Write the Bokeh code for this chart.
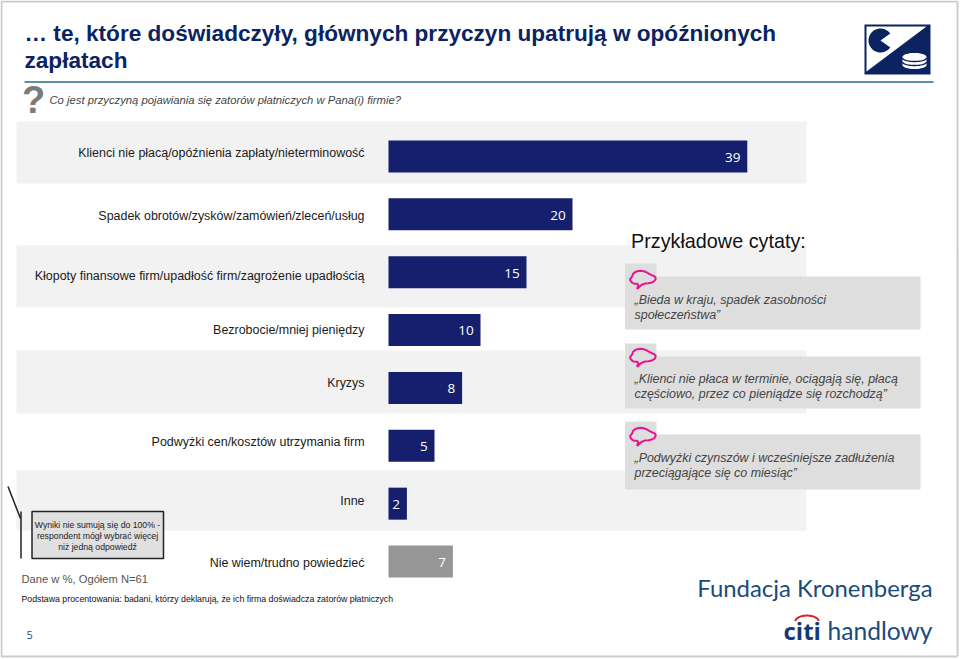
import numpy as np
from bokeh.plotting import figure
from bokeh.models import Range1d
from bokeh.core.properties import value
from bokeh.embed import file_html
from bokeh.resources import INLINE

categories = ["Klienci nie płacą/opóźnienia zapłaty/nieterminowość",
              "Spadek obrotów/zysków/zamówień/zleceń/usług",
              "Kłopoty finansowe firm/upadłość firm/zagrożenie upadłością",
              "Bezrobocie/mniej pieniędzy", "Kryzys",
              "Podwyżki cen/kosztów utrzymania firm", "Inne",
              "Nie wiem/trudno powiedzieć"]
values = [39, 20, 15, 10, 8, 5, 2, 7]
bar_colors = ["#151f6d"] * 7 + ["#969696"]
quotes = [["„Bieda w kraju, spadek zasobności", "społeczeństwa”"],
          ["„Klienci nie płaca w terminie, ociągają się, płacą", "częściowo, przez co pieniądze się rozchodzą”"],
          ["„Podwyżki czynszów i wcześniejsze zadłużenia", "przeciągające się co miesiąc”"]]

OX, OY = 0, 0
W, H = 960, 659
PX_PER_UNIT, X0 = 9.2, 388.0
Y0, STEP = 156.0, 57.86

p = figure(width=W, height=H, output_backend="svg", toolbar_location=None,
           x_range=Range1d((OX - X0) / PX_PER_UNIT, (OX + W - X0) / PX_PER_UNIT),
           y_range=Range1d((OY + H - Y0) / STEP, (OY - Y0) / STEP),
           min_border=0, outline_line_color=None, background_fill_color="white")
p.axis.visible = False
p.grid.visible = False
p.extra_x_ranges["px"] = Range1d(OX, OX + W)
p.extra_y_ranges["px"] = Range1d(OY + H, OY)
PX = dict(x_range_name="px", y_range_name="px")
ARIAL = value("Liberation Sans")

def txt(x, y, s, size, color="#000000", align="left", style="normal", font=ARIAL):
    p.text([x], [y], text=[s], text_font=font, text_font_size=f"{size}px",
           text_color=color, text_align=align, text_baseline="middle",
           text_font_style=style, **PX)

def box(l, r, t, b, color, line=None, lw=1):
    p.quad(left=[l], right=[r], top=[t], bottom=[b], fill_color=color,
           line_color=line, line_width=lw, **PX)

# slide frame
p.line([1, 957, 957], [1, 1, 656], line_color="#cccccc", line_width=2, **PX)
p.line([1, 1, 957], [1, 656, 656], line_color="#cccccc", line_width=2, **PX)

# bands behind alternating rows
for t, b in [(121, 183), (245, 307), (350, 413), (470, 530)]:
    box(16, 806, t, b, "#f2f2f2")

# bars
rows = list(range(len(values)))
p.hbar(y=rows, left=0, right=values, height=32 / STEP, color=bar_colors, line_color=None)
p.text(x=[v - 0.75 for v in values], y=[r + 0.015 for r in rows], text=[str(v) for v in values],
       text_color="white", text_font=value("Open Sans"), text_font_size="13.5px",
       text_align="right", text_baseline="middle")

# category labels
label_y = [152, 215, 275, 329, 382, 441, 500, 562]
for yy, c in zip(label_y, categories):
    txt(364, yy, c, 12.45, "#1a1a1a", "right")

# title
NAVY = "#0b2461"
txt(24, 33, "… te, które doświadczyły, głównych przyczyn upatrują w opóźnionych", 22.6, NAVY, style="bold")
txt(24, 60, "zapłatach", 22.6, NAVY, style="bold")
p.line([24, 933], [81.5, 81.5], line_color="#5a8fa8", line_width=2, **PX)
txt(21.5, 99, "?", 38, "#7b7b7b", style="bold")
txt(49, 99, "Co jest przyczyną pojawiania się zatorów płatniczych w Pana(i) firmie?", 11.26, "#444444", style="italic")

# top right logo
box(864, 930, 24, 74, NAVY)
p.patch([866, 926, 866], [26, 26, 71], fill_color="white", line_color=None, **PX)
a = np.radians(np.linspace(35, 325, 40))
p.patch(np.r_[880, 880 + 12 * np.cos(a)], np.r_[40, 40 + 12 * np.sin(a)], fill_color=NAVY, line_color=None, **PX)
tt = np.linspace(0, np.pi, 20)
p.patch(np.r_[914 - 12 * np.cos(tt), 914 + 12 * np.cos(tt)],
        np.r_[64.5 + 4 * np.sin(tt), 56.5 - 4 * np.sin(tt)],
        fill_color="white", line_color=None, **PX)
for off in (57.5, 61.5):
    p.line(914 - 12 * np.cos(tt), off + 3.5 * np.sin(tt), line_color=NAVY, line_width=1.4, **PX)

# quotes
txt(630.5, 240, "Przykładowe cytaty:", 19.8, "#111111")
cloud_x = np.array([7.5, 13.3, 21, 26, 26, 21, 16, 9.3, 3.7, 2.7, 0, 3.7, 9.3, 7.5])
cloud_y = np.array([18.5, 13.2, 12.7, 10, 6, 4.3, 1, 0, 2.7, 6, 9.3, 13.3, 13.3, 18.5])
def smooth(x, y):
    cx = np.c_[0.75 * x[:-1] + 0.25 * x[1:], 0.25 * x[:-1] + 0.75 * x[1:]].ravel()
    cy = np.c_[0.75 * y[:-1] + 0.25 * y[1:], 0.25 * y[:-1] + 0.75 * y[1:]].ravel()
    return np.r_[x[0], cx, x[0]], np.r_[y[0], cy, y[0]]
sx, sy = smooth(cloud_x, cloud_y)
quote_boxes = [(263, 276, 329, 270), (343, 356, 408, 348), (421, 434, 489, 427)]
line_ys = [(299, 314), (378, 393), (457, 472)]
for (tab, top, bot, cy), q, ly in zip(quote_boxes, quotes, line_ys):
    box(624.5, 656, tab, top + 1, "#dedede")
    box(624.5, 920, top, bot, "#dedede")
    p.line(629 + sx, cy + sy, line_color="#e5168f", line_width=2, line_join="round", **PX)
    for yy, s in zip(ly, q):
        txt(634, yy, s, 12.45, "#444444", style="italic")

# note box
p.line([7.5, 20], [486, 518], line_color="#222222", line_width=1.5, **PX)
p.line([20.5, 20.5], [511, 558], line_color="#222222", line_width=1.5, **PX)
box(31.5, 163, 511, 558, "#e0e0e0", "#222222", 1.5)
for yy, s in zip([524, 535.5, 546], ["Wyniki nie sumują się do 100% -", "respondent mógł wybrać więcej", "niż jedną odpowiedź"]):
    txt(97, yy, s, 8.7, "#222222", "center")

txt(21, 578, "Dane w %, Ogółem N=61", 11.2, "#555555")
txt(21, 598, "Podstawa procentowania: badani, którzy deklarują, że ich firma doświadcza zatorów płatniczych", 8.75, "#111111")
txt(26, 634, "5", 11, "#1f4e79", font=value("Open Sans"))

# bottom right logos
LOGO = "#1b4a7d"
txt(932, 587, "Fundacja Kronenberga", 23.9, LOGO, "right", font=value("Lato"))
txt(932, 630, "handlowy", 24.6, LOGO, "right", font=value("Lato"))
txt(783, 630, "citi", 24, "#123a78", style="bold", font=value("Open Sans"))
arc = np.linspace(np.pi * 0.05, np.pi * 0.95, 20)
p.line(806.5 - 12 * np.cos(arc), 621.5 - 6.5 * np.sin(arc), line_color="#d8232a", line_width=2, **PX)

open("out.html", "w").write(file_html(p, INLINE))
